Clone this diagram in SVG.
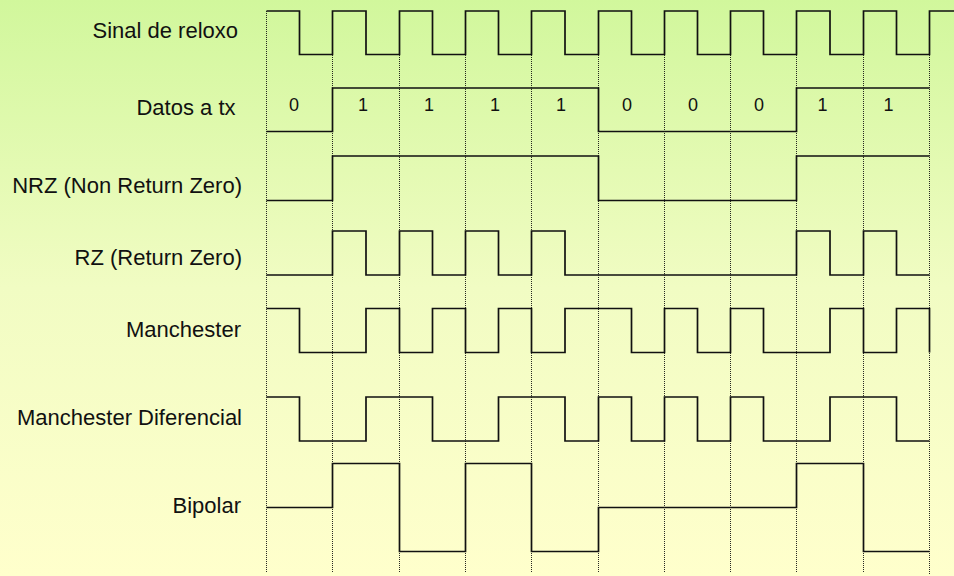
<svg xmlns="http://www.w3.org/2000/svg" width="954" height="576" viewBox="0 0 954 576">
  <defs>
    <linearGradient id="bg" x1="0" y1="0" x2="0" y2="1">
      <stop offset="0" stop-color="#d1f79c"/>
      <stop offset="0.5" stop-color="#f1fcc3"/>
      <stop offset="1" stop-color="#ffffcc"/>
    </linearGradient>
  </defs>
  <style>
    .lbl { font-family: "Liberation Sans", Arial, sans-serif; font-size: 22px; fill: #111; text-anchor: end; }
    .bit { font-family: "Liberation Sans", Arial, sans-serif; font-size: 18px; fill: #111; text-anchor: middle; }
    .wave { fill: none; stroke: #111; stroke-width: 1.7; stroke-linejoin: miter; }
    .grid { stroke: #111; stroke-width: 1; stroke-dasharray: 1 1; opacity: 0.9; }
  </style>
  <rect x="0" y="0" width="954" height="576" fill="url(#bg)"/>

  <g id="connectors">
    <line class="grid" x1="266.5" y1="11" x2="266.5" y2="573"/>
    <line class="grid" x1="332.5" y1="11" x2="332.5" y2="573"/>
    <line class="grid" x1="399.5" y1="11" x2="399.5" y2="573"/>
    <line class="grid" x1="465.5" y1="11" x2="465.5" y2="573"/>
    <line class="grid" x1="531.5" y1="11" x2="531.5" y2="573"/>
    <line class="grid" x1="598.5" y1="11" x2="598.5" y2="573"/>
    <line class="grid" x1="664.5" y1="11" x2="664.5" y2="573"/>
    <line class="grid" x1="730.5" y1="11" x2="730.5" y2="573"/>
    <line class="grid" x1="796.5" y1="11" x2="796.5" y2="573"/>
    <line class="grid" x1="863.5" y1="11" x2="863.5" y2="573"/>
    <line class="grid" x1="929.5" y1="11" x2="929.5" y2="575"/>
  </g>

  <g id="clock">
    <text class="lbl" x="238" y="38">Sinal de reloxo</text>
    <path class="wave" d="M266.5,11 H299.5 V54.5 H332.5 V11 H366 V54.5 H399.5 V11 H432.5 V54.5 H465.5 V11 H498.5 V54.5 H531.5 V11 H565 V54.5 H598.5 V11 H631.5 V54.5 H664.5 V11 H697.5 V54.5 H730.5 V11 H763.5 V54.5 H796.5 V11 H830 V54.5 H863.5 V11 H896.5 V54.5 H929.5 V11 H954"/>
  </g>

  <g id="data">
    <text class="lbl" x="235.5" y="115">Datos a tx</text>
    <path class="wave" d="M266.5,131.5 H332.5 V88 H598.5 V131.5 H796.5 V88 H929.5"/>
    <text class="bit" x="294" y="110.5">0</text>
    <text class="bit" x="363" y="110.5">1</text>
    <text class="bit" x="429" y="110.5">1</text>
    <text class="bit" x="495" y="110.5">1</text>
    <text class="bit" x="561" y="110.5">1</text>
    <text class="bit" x="627" y="110.5">0</text>
    <text class="bit" x="693" y="110.5">0</text>
    <text class="bit" x="759" y="110.5">0</text>
    <text class="bit" x="822.5" y="110.5">1</text>
    <text class="bit" x="888.5" y="110.5">1</text>
  </g>

  <g id="nrz">
    <text class="lbl" x="242" y="193">NRZ (Non Return Zero)</text>
    <path class="wave" d="M266.5,200.5 H332.5 V156 H598.5 V200.5 H796.5 V156 H929.5"/>
  </g>

  <g id="rz">
    <text class="lbl" x="242" y="264.5">RZ (Return Zero)</text>
    <path class="wave" d="M266.5,275 H332.5 V231 H366 V275 H399.5 V231 H432.5 V275 H465.5 V231 H498.5 V275 H531.5 V231 H565 V275 H796.5 V231 H830 V275 H863.5 V231 H896.5 V275 H929.5"/>
  </g>

  <g id="manchester">
    <text class="lbl" x="241" y="336.5">Manchester</text>
    <path class="wave" d="M266.5,308.5 H299.5 V352.5 H366 V308.5 H399.5 V352.5 H432.5 V308.5 H465.5 V352.5 H498.5 V308.5 H531.5 V352.5 H565 V308.5 H631.5 V352.5 H664.5 V308.5 H697.5 V352.5 H730.5 V308.5 H763.5 V352.5 H830 V308.5 H863.5 V352.5 H896.5 V308.5 H929.5 V352.5"/>
  </g>

  <g id="manchester-diferencial">
    <text class="lbl" x="242" y="424.5">Manchester Diferencial</text>
    <path class="wave" d="M266.5,397 H299.5 V441 H366 V397 H432.5 V441 H498.5 V397 H565 V441 H598.5 V397 H631.5 V441 H664.5 V397 H697.5 V441 H730.5 V397 H763.5 V441 H830 V397 H896.5 V441 H929.5"/>
  </g>

  <g id="bipolar">
    <text class="lbl" x="241" y="512.5">Bipolar</text>
    <path class="wave" d="M266.5,507.5 H332.5 V463.5 H399.5 V551.5 H465.5 V463.5 H531.5 V551.5 H598.5 V507.5 H796.5 V463.5 H863.5 V551.5 H929.5"/>
  </g>
</svg>
